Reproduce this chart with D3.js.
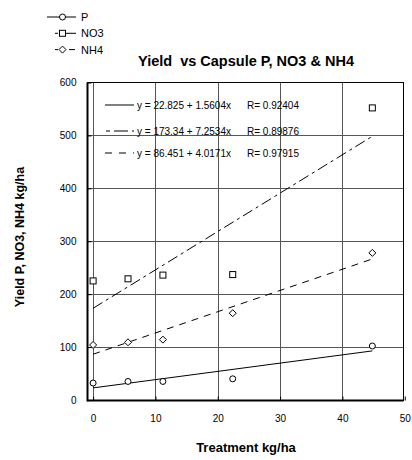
<!DOCTYPE html>
<html>
<head>
<meta charset="utf-8">
<script src="https://cdn.jsdelivr.net/npm/d3@7"></script>
<style>
  body { margin: 0; background: #fff; }
  svg { font-family: "Liberation Sans", Arial, sans-serif; }
  .tick text { font-size: 10px; fill: #000; }
</style>
</head>
<body>
<div id="viz"></div>
<script>
// data
var treatment = [0, 5.6, 11.2, 22.4, 44.8]
var yieldP = [32, 35, 35, 40, 102]
var yieldNO3 = [225, 229, 236, 237, 552]
var yieldNH4 = [104, 109, 114, 164, 278]

var seriesNames = ["P", "NO3", "NH4"]
var fitIntercepts = [22.825, 173.34, 86.451]
var fitSlopes = [1.5604, 7.2534, 4.0171]
var fitR = [0.92404, 0.89876, 0.97915]

var xTicks = [0, 10, 20, 30, 40, 50]
var yTicks = [0, 100, 200, 300, 400, 500, 600]

function yieldChart() {
  let svg = d3.select('#viz').append('svg')
    .attr('width', 412)
    .attr('height', 460)

  let left = 87.5, right = 403.5, top = 82.5, bottom = 400.5

  let xScale = d3.scaleLinear().domain([-0.9, 49.8]).range([left, right])
  let yScale = d3.scaleLinear().domain([-1, 600]).range([bottom, top])

  let dash = ['none', '11,4,3,4', '7,6']
  let shape = ['circle', 'square', 'diamond']
  let series = [yieldP, yieldNO3, yieldNH4]

  // grid lines, solid dark grey (dotted versions did not show up)
  let vLines = xTicks.filter(t => t < 50)
  let hLines = yTicks.filter(t => t > 0 && t < 600)
  vLines.forEach(t => {
    svg.append('line')
      .attr('x1', Math.round(xScale(t)) + 0.5).attr('x2', Math.round(xScale(t)) + 0.5)
      .attr('y1', top).attr('y2', bottom)
      .attr('stroke', '#555')
  })
  hLines.forEach(t => {
    svg.append('line')
      .attr('x1', left).attr('x2', right)
      .attr('y1', Math.round(yScale(t)) + 0.5).attr('y2', Math.round(yScale(t)) + 0.5)
      .attr('stroke', '#555')
  })

  // axes with inward ticks
  svg.append('g')
    .attr('transform', `translate(0, ${bottom})`)
    .call(d3.axisBottom(xScale).tickValues(xTicks).tickSizeInner(-4).tickSizeOuter(0).tickPadding(14))
    .call(g => g.select('.domain').remove())

  svg.append('g')
    .attr('transform', `translate(${left}, 0)`)
    .call(d3.axisLeft(yScale).tickValues(yTicks).tickSizeInner(-4).tickSizeOuter(0).tickPadding(11))
    .call(g => g.select('.domain').remove())

  // frame
  svg.append('rect')
    .attr('x', left).attr('y', top)
    .attr('width', right - left).attr('height', bottom - top)
    .attr('fill', 'none').attr('stroke', '#000').attr('stroke-width', 1)
  svg.append('line')
    .attr('x1', left).attr('x2', left).attr('y1', top).attr('y2', bottom + 1)
    .attr('stroke', '#000').attr('stroke-width', 2)
  svg.append('line')
    .attr('x1', left).attr('x2', right).attr('y1', bottom).attr('y2', bottom)
    .attr('stroke', '#000').attr('stroke-width', 2)

  function marker(g, kind, x, y) {
    if (kind === 'circle') {
      g.append('circle').attr('cx', x).attr('cy', y).attr('r', 3)
        .attr('fill', '#fff').attr('stroke', '#000')
    } else if (kind === 'square') {
      g.append('rect').attr('x', x - 3).attr('y', y - 3).attr('width', 6).attr('height', 6)
        .attr('fill', '#fff').attr('stroke', '#000')
    } else {
      g.append('path').attr('d', `M${x},${y - 3.5}L${x + 3.5},${y}L${x},${y + 3.5}L${x - 3.5},${y}Z`)
        .attr('fill', '#fff').attr('stroke', '#000')
    }
  }

  // fit lines
  let xMin = d3.min(treatment), xMax = d3.max(treatment)
  seriesNames.forEach((name, i) => {
    svg.append('line')
      .attr('x1', xScale(xMin)).attr('y1', yScale(fitIntercepts[i] + fitSlopes[i] * xMin))
      .attr('x2', xScale(xMax)).attr('y2', yScale(fitIntercepts[i] + fitSlopes[i] * xMax))
      .attr('stroke', '#000').attr('stroke-width', 1)
      .attr('stroke-dasharray', dash[i])
  })

  // points
  let pts = svg.append('g')
  series.forEach((vals, i) => {
    vals.forEach((v, j) => marker(pts, shape[i], xScale(treatment[j]), yScale(v)))
  })

  // fit legend inside the plot
  let fitLegend = svg.append('g')
  seriesNames.forEach((name, i) => {
    let y = [105, 131, 153][i]
    fitLegend.append('line')
      .attr('x1', 105).attr('x2', 134).attr('y1', y).attr('y2', y)
      .attr('stroke', '#000')
      .attr('stroke-dasharray', i === 0 ? 'none' : (i === 1 ? '4,4,14' : '7,7'))
      .attr('stroke-dashoffset', i === 1 ? -1 : 0)
    fitLegend.append('text')
      .attr('x', 137).attr('y', y + 3.5)
      .attr('font-size', 10)
      .text(`y = ${fitIntercepts[i]} + ${fitSlopes[i]}x`)
    fitLegend.append('text')
      .attr('x', 247).attr('y', y + 3.5)
      .attr('font-size', 10)
      .text(`R= ${fitR[i]}`)
  })

  // series legend top left
  let legend = svg.append('g')
  seriesNames.forEach((name, i) => {
    let y = 17 + i * 16.3
    let lx1 = i === 0 ? 47 : 55
    legend.append('line')
      .attr('x1', lx1).attr('x2', 76).attr('y1', y).attr('y2', y)
      .attr('stroke', '#000')
      .attr('stroke-dasharray', i === 0 ? 'none' : (i === 1 ? '3,3,16' : '3,11,6'))
    marker(legend, shape[i], 62.5, y)
    legend.append('text')
      .attr('x', 81).attr('y', y + 4)
      .attr('font-size', 11)
      .text(name)
  })

  // titles
  svg.append('text')
    .attr('x', 246).attr('y', 66)
    .attr('text-anchor', 'middle')
    .attr('font-size', 14.5).attr('font-weight', 'bold')
    .style('white-space', 'pre')
    .text('Yield  vs Capsule P, NO3 & NH4')

  svg.append('text')
    .attr('transform', 'translate(24, 237) rotate(-90)')
    .attr('text-anchor', 'middle')
    .attr('font-size', 12.5).attr('font-weight', 'bold')
    .text('Yield P, NO3, NH4 kg/ha')

  svg.append('text')
    .attr('x', 246).attr('y', 452)
    .attr('text-anchor', 'middle')
    .attr('font-size', 13).attr('font-weight', 'bold')
    .text('Treatment kg/ha')
}

yieldChart()
</script>
</body>
</html>
